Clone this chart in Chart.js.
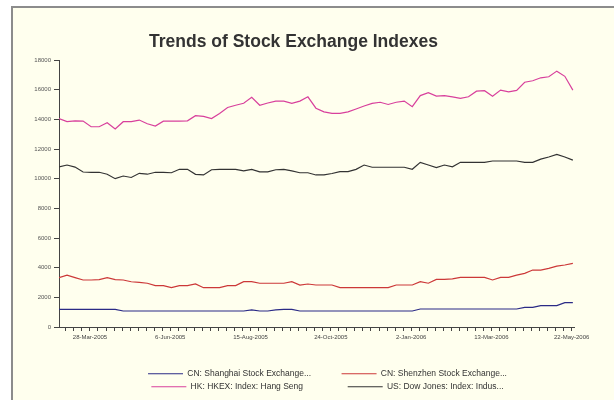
<!DOCTYPE html>
<html>
<head>
<meta charset="utf-8">
<title>Trends of Stock Exchange Indexes</title>
<script src="https://cdn.jsdelivr.net/npm/chart.js@4.4.1/dist/chart.umd.min.js"></script>
<style>
  html, body { margin: 0; padding: 0; background: #fff; overflow: hidden; }
  #frame { position: absolute; left: 11px; top: 6px; width: 620px; height: 410px; border: 2px solid #8c8c8c; background: #ffffee; }
  #wrap { position: absolute; left: 13px; top: 8px; width: 601px; height: 393px; }
</style>
</head>
<body>
<div id="frame"></div>
<div id="wrap"><canvas id="chart-indexes"></canvas></div>
<script>
// weekly readings, first one is Tue 1-Mar-2005 (day 0 = Mon 28-Feb-2005)
const shanghai = [1190, 1190, 1190, 1190, 1190, 1190, 1190, 1190, 1080, 1080,
  1080, 1080, 1080, 1080, 1080, 1080, 1080, 1080, 1080, 1080,
  1080, 1080, 1080, 1080, 1150, 1080, 1080, 1150, 1190, 1190,
  1080, 1080, 1080, 1080, 1080, 1080, 1080, 1080, 1080, 1080,
  1080, 1080, 1080, 1080, 1080, 1213, 1213, 1213, 1213, 1213,
  1213, 1213, 1213, 1213, 1213, 1213, 1213, 1213, 1325, 1325,
  1437, 1437, 1437, 1640, 1640];
const shenzhen = [3330, 3500, 3330, 3170, 3170, 3200, 3330, 3200, 3170, 3050,
  3010, 2950, 2790, 2790, 2650, 2790, 2790, 2900, 2650, 2650,
  2650, 2790, 2790, 3055, 3055, 2950, 2950, 2950, 2950, 3055,
  2830, 2900, 2830, 2830, 2830, 2650, 2650, 2650, 2650, 2650,
  2650, 2650, 2830, 2830, 2830, 3055, 2950, 3210, 3210, 3250,
  3350, 3350, 3350, 3350, 3170, 3350, 3350, 3500, 3620, 3840,
  3840, 3955, 4100, 4180, 4290];
const hangSeng = [14050, 13850, 13900, 13880, 13500, 13500, 13770, 13350, 13840, 13840,
  13950, 13700, 13550, 13880, 13880, 13880, 13900, 14250, 14200, 14050,
  14400, 14800, 14950, 15080, 15480, 14950, 15100, 15230, 15230, 15080,
  15230, 15520, 14750, 14500, 14400, 14400, 14500, 14700, 14900, 15080,
  15150, 15000, 15150, 15230, 14850, 15600, 15800, 15570, 15600, 15520,
  15420, 15520, 15900, 15930, 15550, 15970, 15850, 15950, 16500, 16600,
  16800, 16870, 17250, 16900, 15970];
const dowJones = [10800, 10920, 10780, 10450, 10430, 10430, 10300, 10000, 10180, 10080,
  10360, 10300, 10430, 10420, 10400, 10630, 10630, 10290, 10250, 10600,
  10630, 10630, 10630, 10520, 10630, 10460, 10460, 10600, 10630, 10520,
  10400, 10400, 10250, 10250, 10350, 10470, 10470, 10630, 10920, 10770,
  10770, 10770, 10770, 10770, 10630, 11100, 10920, 10750, 10920, 10800,
  11100, 11100, 11100, 11100, 11190, 11190, 11190, 11190, 11100, 11100,
  11320, 11460, 11640, 11460, 11250];

const seriesNames = ["CN: Shanghai Stock Exchange...", "CN: Shenzhen Stock Exchange...",
  "HK: HKEX: Index: Hang Seng", "US: Dow Jones: Index: Indus..."];
const seriesColors = ["#2b2b86", "#cc3838", "#d8409c", "#333333"];
const tickLabels = ["28-Mar-2005", "6-Jun-2005", "15-Aug-2005", "24-Oct-2005", "2-Jan-2006", "13-Mar-2006", "22-May-2006"];
const tickLabelDays = [28, 98, 168, 238, 308, 378, 448];

const days = hangSeng.map((v, i) => 1 + i * 7);
const weekTicks = Array.from({ length: 64 }, (v, i) => 7 + i * 7);
const toPoints = (values) => values.map((v, i) => ({ x: days[i], y: v }));
// extra blank room after the first column so the legend reads as two columns
const legendGaps = [" ".repeat(11), "", " ".repeat(17), ""];

Chart.defaults.font.family = "'Liberation Sans', Arial, sans-serif";
Chart.defaults.color = "#444";

const legendShift = {
  id: "legendShift",
  afterLayout(chart) {
    chart.legend.left += 11;
    chart.legend.right += 11;
  },
};

const chart = new Chart(document.getElementById("chart-indexes"), {
  type: "line",
  data: {
    datasets: [shanghai, shenzhen, hangSeng, dowJones].map((values, i) => ({
      label: seriesNames[i],
      data: toPoints(values),
      borderColor: seriesColors[i],
      backgroundColor: seriesColors[i],
      borderWidth: 1.2,
      pointRadius: 0,
      tension: 0,
    })),
  },
  options: {
    responsive: true,
    maintainAspectRatio: false,
    animation: false,
    layout: { padding: { left: 0, right: 40, top: 0, bottom: 0 } },
    plugins: {
      title: {
        display: true,
        text: "Trends of Stock Exchange Indexes",
        color: "#333",
        font: { size: 17.5, weight: "bold" },
        padding: { top: 24, bottom: 7 },
      },
      legend: {
        position: "bottom",
        fullSize: false,
        labels: {
          usePointStyle: true,
          pointStyle: "line",
          pointStyleWidth: 35,
          padding: 4.5,
          color: "#333",
          font: { size: 8.5 },
          generateLabels(c) {
            const items = Chart.defaults.plugins.legend.labels.generateLabels(c);
            items.forEach((it, i) => { it.text += legendGaps[i]; });
            return items;
          },
        },
      },
      tooltip: { enabled: false },
    },
    scales: {
      x: {
        type: "linear",
        min: 1,
        max: 450,
        afterBuildTicks: (s) => { s.ticks = weekTicks.map((v) => ({ value: v })); },
        afterFit: (s) => { s.height = 38; },
        grid: { drawOnChartArea: false, tickLength: 4, color: "#444" },
        border: { color: "#444" },
        ticks: {
          autoSkip: false,
          maxRotation: 0,
          padding: 3,
          color: "#444",
          font: { size: 6 },
          callback: (value) => {
            const i = tickLabelDays.indexOf(value);
            return i >= 0 ? tickLabels[i] : "";
          },
        },
      },
      y: {
        min: 0,
        max: 18000,
        afterFit: (s) => { s.width = 46; },
        grid: { drawOnChartArea: false, tickLength: 5, color: "#444" },
        border: { color: "#444" },
        ticks: {
          stepSize: 2000,
          padding: 3,
          color: "#555",
          font: { size: 6 },
          callback: (value) => String(value),
        },
      },
    },
  },
  plugins: [legendShift],
});
</script>
</body>
</html>
